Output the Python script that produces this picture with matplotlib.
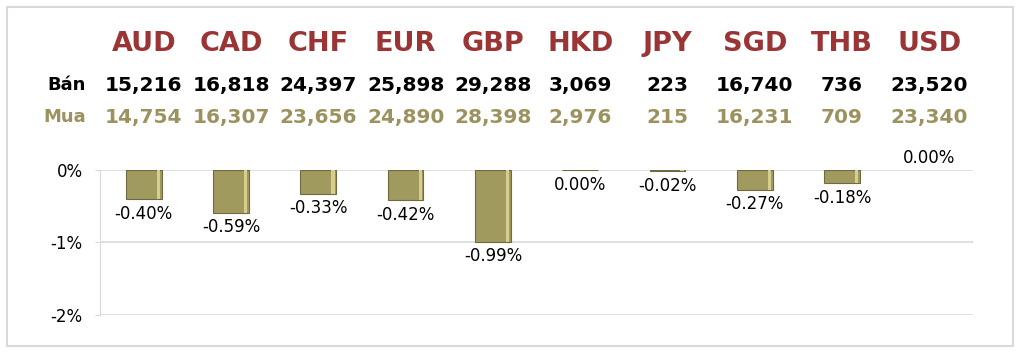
import matplotlib.pyplot as plt
import matplotlib.transforms as mtransforms
from matplotlib.patches import Rectangle
import numpy as np

plt.rcParams['font.family'] = ['DejaVu Sans']

# --- data ---
currencies = ['AUD', 'CAD', 'CHF', 'EUR', 'GBP', 'HKD', 'JPY', 'SGD', 'THB', 'USD']
ban = ['15,216', '16,818', '24,397', '25,898', '29,288', '3,069', '223', '16,740', '736', '23,520']
mua = ['14,754', '16,307', '23,656', '24,890', '28,398', '2,976', '215', '16,231', '709', '23,340']
# thay doi (%)
change = [-0.40, -0.59, -0.33, -0.42, -0.99, -0.004, -0.02, -0.27, -0.18, 0.0]
y_ticks = [0, -1, -2]

red = '#9B3535'
olive = '#9C9260'
bar_col = '#A19A5F'

fig = plt.figure(figsize=(10.24, 3.56), dpi=100)
ax = fig.add_axes([0.0977, 0.1152, 0.8525, 0.4073])

x = np.arange(len(currencies))
edge_cols = ['none' if v == 0 else '#6F6A3F' for v in change]
ax.bar(x, change, width=0.41, color=bar_col, edgecolor=edge_cols, linewidth=0.8, zorder=3)
# highlight ben phai (hieu ung 3D)
ax.bar(x + 0.168, change, width=0.04, color='#D6CE8A', linewidth=0, zorder=4)

ax.set_xlim(-0.5, len(currencies) - 0.5)
ax.set_ylim(-2, 0)
ax.set_yticks(y_ticks)
ax.set_yticklabels([f'{t}%' for t in y_ticks], fontsize=12)
ax.set_xticks([])
ax.grid(axis='y', color='#d9d9d9', linewidth=1.2, zorder=0)
ax.tick_params(axis='y', length=3.6, color='#d9d9d9', pad=9)
for s in ['top', 'right', 'bottom']:
    ax.spines[s].set_visible(False)
ax.spines['left'].set_color('#d9d9d9')

# nhan gia tri
for xi, v in zip(x, change):
    txt = f'{round(v, 2) + 0.0:.2f}%'
    if v < 0:
        ax.annotate(txt, (xi, v), xytext=(0, -4), textcoords='offset points',
                    ha='center', va='top', fontsize=12, annotation_clip=False)
    else:
        ax.annotate(txt, (xi, v), xytext=(0, 2), textcoords='offset points',
                    ha='center', va='bottom', fontsize=12, annotation_clip=False)

# bang ty gia phia tren
trans = mtransforms.blended_transform_factory(ax.transData, fig.transFigure)
for xi, c, b, m in zip(x, currencies, ban, mua):
    ax.text(xi, 0.876, c, transform=trans, ha='center', va='center',
            fontsize=19.5, fontweight='bold', color=red)
    ax.text(xi, 0.761, b, transform=trans, ha='center', va='center',
            fontsize=14.5, fontweight='bold', color='black')
    ax.text(xi, 0.671, m, transform=trans, ha='center', va='center',
            fontsize=14.5, fontweight='bold', color=olive)
fig.text(86 / 1024, 0.761, 'Bán', ha='right', va='center', fontsize=13,
         fontweight='bold', color='black')
fig.text(86 / 1024, 0.671, 'Mua', ha='right', va='center', fontsize=13,
         fontweight='bold', color=olive)

# khung vien
fig.patches.append(Rectangle((0.0068, 0.028), 0.982, 0.952, transform=fig.transFigure,
                             fill=False, edgecolor='#d9d9d9', linewidth=1.5))

fig.savefig('out.png', dpi=100)
